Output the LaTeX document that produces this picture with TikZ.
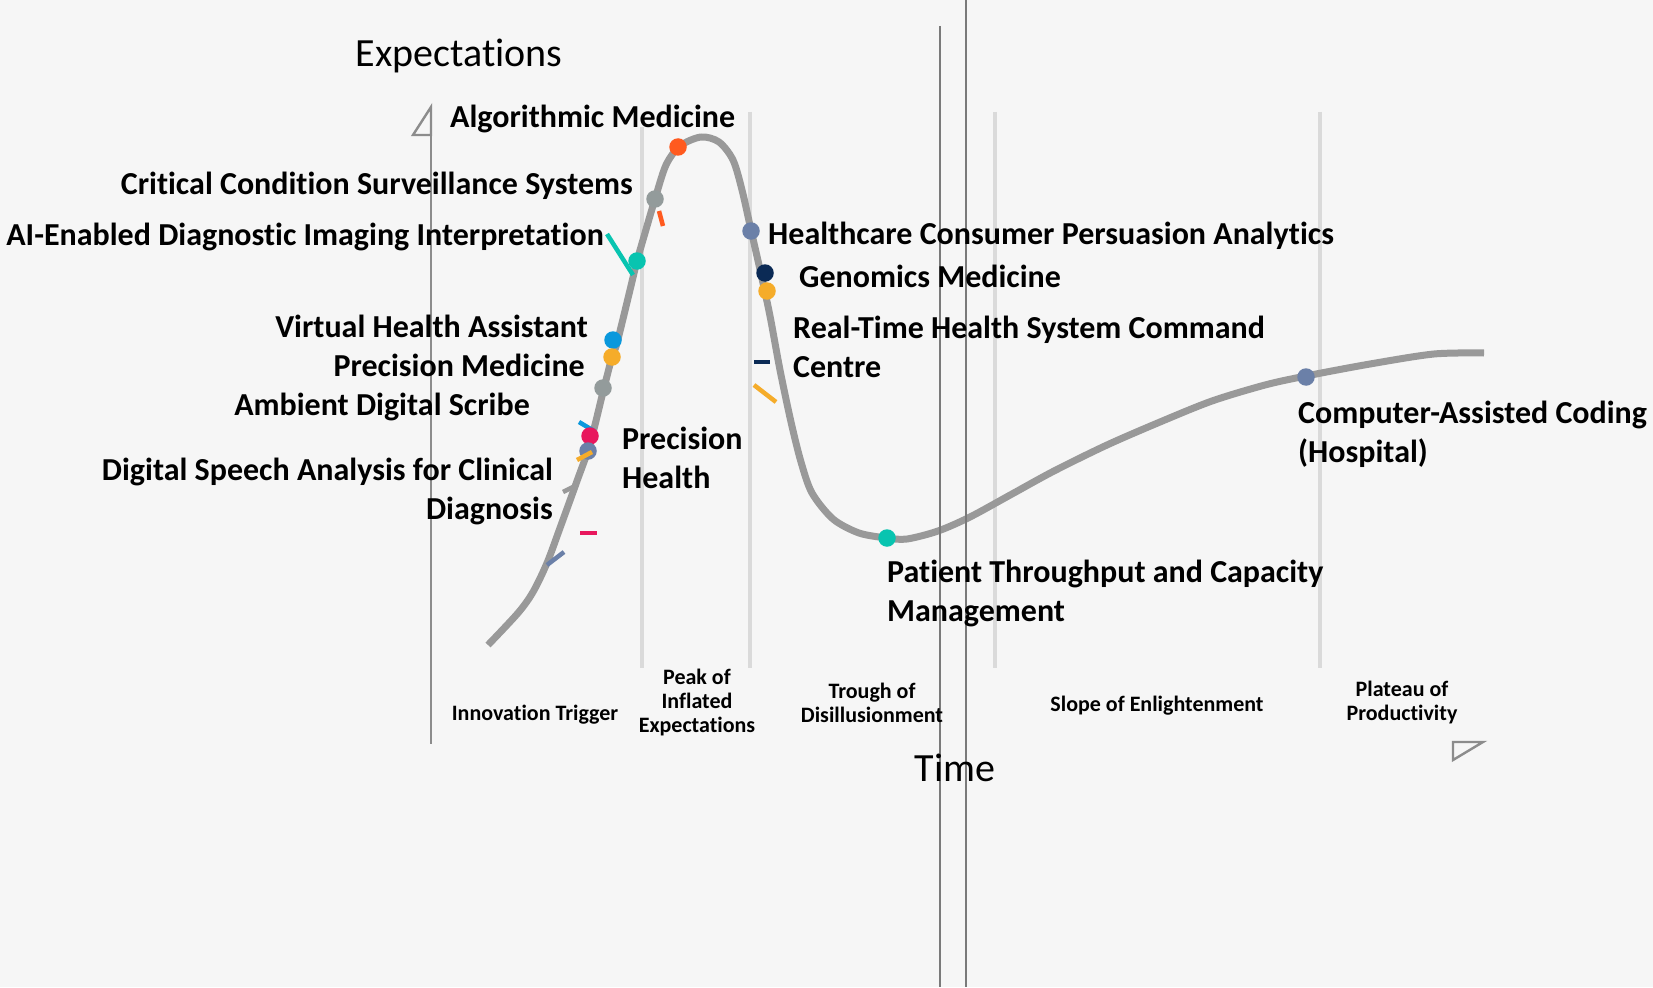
\documentclass[tikz,border=0pt]{standalone}
\usepackage{fontspec}
\setmainfont{Carlito}[Ligatures={NoCommon}]
\definecolor{bg}{HTML}{F6F6F6}
\definecolor{curvegray}{HTML}{999999}
\definecolor{sepgray}{HTML}{DADADA}
\definecolor{darkline}{HTML}{7A7A7A}
\definecolor{axisgray}{HTML}{8C8C8C}
\definecolor{cOrange}{HTML}{FF5A1F}
\definecolor{cGray}{HTML}{939B9B}
\definecolor{cTeal}{HTML}{08C4B0}
\definecolor{cBlue}{HTML}{0A98DC}
\definecolor{cYellow}{HTML}{F5AC2A}
\definecolor{cPink}{HTML}{E8175D}
\definecolor{cSlate}{HTML}{6B80A8}
\definecolor{cNavy}{HTML}{0B2A55}
\tikzset{
  lbl/.style={font=\fontsize{32}{39}\selectfont\bfseries, inner sep=0pt},
  phase/.style={font=\fontsize{22}{24}\selectfont\bfseries, align=center, inner sep=0pt},
  axlbl/.style={font=\fontsize{40}{48}\selectfont, inner sep=0pt},
  sepline/.style={draw=sepgray, line width=4pt},
  darkv/.style={draw=darkline, line width=1.8pt},
  axisline/.style={draw=axisgray, line width=2.4pt},
  dot/.style={circle, inner sep=0pt, minimum width=17.5pt, minimum height=16.5pt, fill=#1},
  tickmark/.style={draw=#1, line width=4.5pt},
  hype/.style={draw=curvegray, line width=7pt, line join=round}
}
\begin{document}
\begin{tikzpicture}[x=1pt,y=-1pt]
\fill[bg] (0,0) rectangle (1653,987);
\useasboundingbox (0,0) rectangle (1653,987);

% phase separators
\draw[sepline] (642,127) -- (642,668);
\draw[sepline] (750,112) -- (750,668);
\draw[sepline] (995,112) -- (995,668);
\draw[sepline] (1320,112) -- (1320,668);

% y axis
\draw[axisline] (431,135) -- (431,744);
\draw[axisline, line join=miter] (431,107) -- (413,135) -- (431,135) -- cycle;
% x axis head
\draw[axisline, line join=miter] (1453,742) -- (1483,742) -- (1453,760) -- cycle;

% hype curve
\draw[hype] plot[smooth, tension=0.5] coordinates {
(488,645) (518,613) (533,592) (547,563) (560,528) (577,481) (590,444) (603,392)
(612,357) (617,343) (630,290) (637,261) (645,233) (655,199) (666,165) (680,146)
(701,137) (719,142) (733,160) (742,190) (751,230) (761,274) (770,316) (780,370)
(791,422) (801,462) (812,493) (833,519) (859,533) (887,538) (907,539) (938,531)
(970,517) (1012,494) (1054,471) (1107,445) (1160,422) (1212,401) (1265,385)
(1306,376) (1370,364) (1434,354) (1484,353)};

% small marks
\coordinate (t1a) at (607,234); \coordinate (t1b) at (633,275);
\draw[tickmark=cTeal] (t1a) -- (t1b);
\coordinate (o1a) at (659,211); \coordinate (o1b) at (663,226);
\draw[tickmark=cOrange] (o1a) -- (o1b);
\coordinate (n1a) at (754,362); \coordinate (n1b) at (770,362);
\draw[tickmark=cNavy] (n1a) -- (n1b);
\coordinate (y1a) at (754,385); \coordinate (y1b) at (776,402);
\draw[tickmark=cYellow] (y1a) -- (y1b);
\coordinate (b1a) at (579,422); \coordinate (b1b) at (594,431);
\draw[tickmark=cBlue] (b1a) -- (b1b);
\coordinate (g1a) at (563,492); \coordinate (g1b) at (577,485);
\draw[tickmark=curvegray] (g1a) -- (g1b);
\coordinate (p1a) at (580,533); \coordinate (p1b) at (597,533);
\draw[tickmark=cPink] (p1a) -- (p1b);
\coordinate (s1a) at (547,565); \coordinate (s1b) at (564,552);
\draw[tickmark=cSlate] (s1a) -- (s1b);

% dots
\node[dot=cOrange] (dAlg) at (678,147) {};
\node[dot=cGray] (dCrit) at (655,199) {};
\node[dot=cTeal] (dAI) at (637,261) {};
\node[dot=cBlue] (dVHA) at (613,340) {};
\node[dot=cYellow] (dPM) at (612,357) {};
\node[dot=cGray] (dADS) at (603,388) {};
\node[dot=cPink] (dPH) at (590,436) {};
\node[dot=cSlate] (dDSA) at (588,451) {};
\coordinate (y2a) at (577,460); \coordinate (y2b) at (592,452);
\draw[tickmark=cYellow] (y2a) -- (y2b);
\node[dot=cSlate] (dHC) at (751,231) {};
\node[dot=cNavy] (dGM) at (765,273) {};
\node[dot=cYellow] (dRT) at (767,291) {};
\node[dot=cTeal] (dPT) at (887,538) {};
\node[dot=cSlate] (dCAC) at (1306,377) {};

% dark vertical lines
\draw[darkv] (940,26) -- (940,987);
\draw[darkv] (966,0) -- (966,987);

% axis labels
\node[axlbl] (ylab) at (459,56) {Expectations};
\node[axlbl] (xlab) at (955,768) {Time};

% labels
\node[lbl, anchor=west] (lAlg) at (450,119) {Algorithmic Medicine};
\node[lbl, anchor=east] (lCrit) at (633,186) {Critical Condition Surveillance Systems};
\node[lbl, anchor=east] (lAI) at (604,237) {AI-Enabled Diagnostic Imaging Interpretation};
\node[lbl, anchor=east] (lVHA) at (588,326) {Virtual Health Assistant};
\node[lbl, anchor=east] (lPM) at (585,365) {Precision Medicine};
\node[lbl, anchor=east] (lADS) at (530,407) {Ambient Digital Scribe};
\node[lbl, anchor=north east, align=right] (lDSA) at (553,458) {Digital Speech Analysis for Clinical\\Diagnosis};
\node[lbl, anchor=north west, align=left] (lPH) at (622,427) {Precision\\Health};
\node[lbl, anchor=west] (lHC) at (768,236) {Healthcare Consumer Persuasion Analytics};
\node[lbl, anchor=west] (lGM) at (799,276) {Genomics Medicine};
\node[lbl, anchor=north west, align=left] (lRT) at (793,316) {Real-Time Health System Command\\Centre};
\node[lbl, anchor=north west, align=left] (lPT) at (887,560) {Patient Throughput and Capacity\\Management};
\node[lbl, anchor=north west, align=left] (lCAC) at (1298,401) {Computer-Assisted Coding\\(Hospital)};

% phase labels
\node[phase] (ph1) at (535,715) {Innovation Trigger};
\node[phase] (ph2) at (697,703) {Peak of\\Inflated\\Expectations};
\node[phase] (ph3) at (872,703) {Trough of\\Disillusionment};
\node[phase] (ph4) at (1157,706) {Slope of Enlightenment};
\node[phase] (ph5) at (1402,703) {Plateau of\\Productivity};
\end{tikzpicture}
\end{document}
